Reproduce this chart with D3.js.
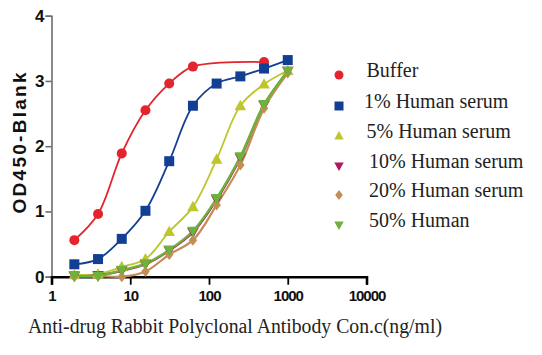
<!DOCTYPE html>
<html>
<head>
<meta charset="utf-8">
<script src="https://cdn.jsdelivr.net/npm/d3@7"></script>
<style>
html,body{margin:0;padding:0;background:#fff;}
svg{display:block;}
</style>
</head>
<body>
<svg id="chart" width="542" height="355"></svg>
<script>
// ---- data ----
const doses = [1.95, 3.9, 7.8, 15.6, 31.25, 62.5, 125, 250, 500, 1000];
const seriesNames = ["Buffer", "1% Human serum", "5% Human serum", "10% Human serum", "20% Human serum", "50% Human"];
const buffer   = [0.56, 0.96, 1.89, 2.55, 2.96, 3.22, null, null, 3.29, null];
const serum1   = [0.19, 0.27, 0.58, 1.01, 1.77, 2.62, 2.96, 3.07, 3.19, 3.32];
const serum5   = [0.03, 0.04, 0.15, 0.27, 0.69, 1.07, 1.80, 2.62, 2.95, 3.16];
const serum10  = [0.01, 0.02, 0.09, 0.19, 0.40, 0.68, 1.18, 1.82, 2.63, 3.15];
const serum20  = [0.00, 0.01, 0.00, 0.08, 0.34, 0.56, 1.10, 1.71, 2.58, 3.12];
const serum50  = [0.02, 0.01, 0.10, 0.20, 0.41, 0.70, 1.20, 1.84, 2.64, 3.15];
const xTicks = [1, 10, 100, 1000, 10000];
const xTickLabels = ["1", "10", "100", "1000", "10000"];
const yTicks = [0, 1, 2, 3, 4];
const colors  = ["#e5232c", "#123f93", "#bdc72c", "#b0185e", "#c48d58", "#6cb33c"];
const symbols = ["circle", "square", "triangleUp", "triangleDown", "diamond", "triangleDown"];
const values  = [buffer, serum1, serum5, serum10, serum20, serum50];

// ---- layout ----
const svg = d3.select("#chart");
const x = d3.scaleLog().domain([1, 10000]).range([51.5, 366.5]);
const y = d3.scaleLinear().domain([0, 4]).range([276.7, 15.7]);

function markerPath(type, s) {
  const h = s / 2;
  switch (type) {
    case "circle": return d3.symbol(d3.symbolCircle, Math.PI * h * h)();
    case "square": return `M${-h},${-h}H${h}V${h}H${-h}Z`;
    case "triangleUp": return `M0,${-h * 1.1}L${h * 1.05},${h * 0.8}L${-h * 1.05},${h * 0.8}Z`;
    case "triangleDown": return `M0,${h * 1.1}L${h * 1.05},${-h * 0.8}L${-h * 1.05},${-h * 0.8}Z`;
    case "diamond": return `M0,${-h * 1.1}L${h * 0.85},0L0,${h * 1.1}L${-h * 0.85},0Z`;
  }
}

// ---- axes ----
const yAxis = d3.axisLeft(y).tickValues(yTicks).tickSize(6).tickPadding(1).tickFormat(d3.format("d"));
const gy = svg.append("g").attr("transform", "translate(51.5,0)").call(yAxis);
gy.select(".domain").attr("stroke", "#6d6d6d").attr("stroke-width", 1.6);
gy.selectAll(".tick line").attr("stroke", "#6d6d6d").attr("stroke-width", 1.6);
gy.selectAll(".tick text").attr("font-family", "Liberation Sans, Arial, sans-serif")
  .attr("font-weight", "bold").attr("font-size", 17).attr("fill", "#111");

const xAxis = d3.axisBottom(x).tickValues(xTicks).tickSize(8).tickPadding(6)
  .tickFormat((d, i) => xTickLabels[i]);
const gx = svg.append("g").attr("transform", "translate(0,276.7)").call(xAxis);
gx.select(".domain").attr("stroke", "#000").attr("stroke-width", 2.6);
gx.selectAll(".tick line").attr("stroke", "#000").attr("stroke-width", 1.8);
gx.selectAll(".tick text").attr("font-family", "Liberation Sans, Arial, sans-serif")
  .attr("font-weight", "bold").attr("font-size", 15).attr("letter-spacing", -1).attr("fill", "#111");

svg.append("text")
  .attr("transform", "translate(26,143) rotate(-90)")
  .attr("text-anchor", "middle")
  .attr("font-family", "Liberation Sans, Arial, sans-serif")
  .attr("font-weight", "bold").attr("font-size", 19).attr("fill", "#111")
  .attr("textLength", 141).attr("lengthAdjust", "spacing")
  .text("OD450-Blank");

svg.append("text")
  .attr("x", 28).attr("y", 333)
  .attr("font-family", "Liberation Serif, Times New Roman, serif")
  .attr("font-size", 20).attr("fill", "#222")
  .attr("textLength", 414).attr("lengthAdjust", "spacingAndGlyphs")
  .text("Anti-drug Rabbit Polyclonal Antibody Con.c(ng/ml)");

// ---- series ----
const line = d3.line()
  .x(d => x(d.dose)).y(d => y(d.v))
  .curve(d3.curveCatmullRom.alpha(0.5));

const data = seriesNames.map((name, i) => ({
  name, color: colors[i], symbol: symbols[i],
  pts: doses.map((dose, j) => ({ dose, v: values[i][j] }))
}));

const lineWidths = [1.8, 1.8, 1.8, 2.2, 2.2, 2.4];
data.forEach((s, i) => {
  svg.append("path")
    .datum(s.pts.filter(p => p.v != null))
    .attr("fill", "none").attr("stroke", s.color).attr("stroke-width", lineWidths[i])
    .attr("d", line);
});

const markerSizes = [10, 10, 11, 11, 10, 11];
data.forEach((s, i) => {
  svg.append("g").selectAll("path")
    .data(s.pts.filter(p => p.v != null))
    .join("path")
    .attr("transform", d => `translate(${x(d.dose)},${y(d.v)})`)
    .attr("d", markerPath(s.symbol, markerSizes[i]))
    .attr("fill", s.color);
});

// ---- legend ----
const legendY = [75, 106, 136, 166, 195, 225];
const legendTextX = [366.5, 364, 366.5, 369, 369, 369];
const legend = svg.append("g");
data.forEach((s, i) => {
  legend.append("path")
    .attr("transform", `translate(339,${legendY[i]})`)
    .attr("d", markerPath(s.symbol, 9))
    .attr("fill", s.color);
  legend.append("text")
    .attr("x", legendTextX[i]).attr("y", legendY[i] + 2)
    .attr("font-family", "Liberation Serif, Times New Roman, serif")
    .attr("font-size", 20).attr("fill", "#222")
    .text(s.name);
});
</script>
</body>
</html>
